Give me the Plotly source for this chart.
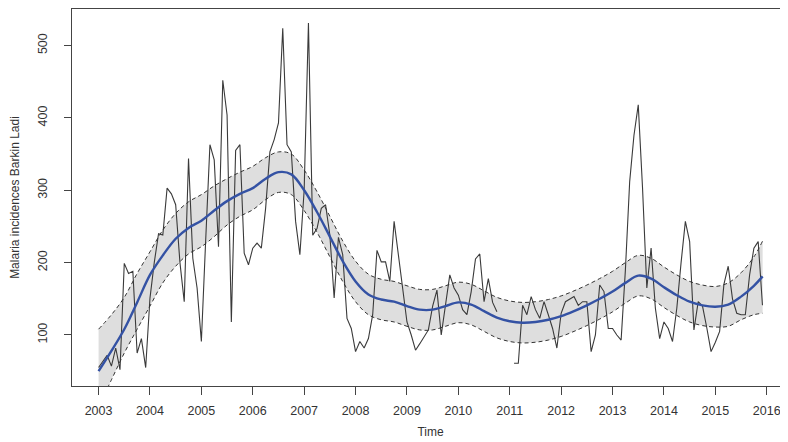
import plotly.graph_objects as go

# Monthly malaria incidences, Jan 2003 - Dec 2015 (None = missing)
start_year = 2003
incidences = [
    55, 63, 72, 57, 82, 52, 199, 185, 188, 75, 95, 55,            # 2003
    151, 200, 240, 238, 303, 295, 280, 200, 146, 344, 206, 165,   # 2004
    91, 230, 363, 342, 222, 452, 404, 118, 355, 363, 213, 197,    # 2005
    220, 227, 220, 275, 353, 370, 393, 524, 363, 353, 257, 211,   # 2006
    300, 531, 238, 247, 275, 280, 238, 151, 235, 211, 123, 109,   # 2007
    77, 91, 82, 95, 128, 217, 201, 201, 174, 257, 211, 169,       # 2008
    118, 100, 79, 88, 98, 107, 140, 162, 100, 140, 183, 165,      # 2009
    155, 135, 128, 160, 205, 212, 146, 178, 145, 132, None, None, # 2010
    None, 61, 61, 141, 128, 153, 135, 123, 146, 128, 109, 82,     # 2011
    130, 146, 150, 153, 141, 146, 146, 77, 100, 169, 160, 109,    # 2012
    109, 100, 93, 190, 312, 376, 418, 303, 165, 220, 137, 95,     # 2013
    118, 109, 91, 137, 200, 257, 229, 107, 146, 140, 110, 77,     # 2014
    90, 105, 170, 195, 150, 130, 128, 128, 183, 220, 229, 141,    # 2015
]
months = [start_year + i / 12 for i in range(len(incidences))]

# Smoothed trend with confidence band (read at quarter-year knots)
smooth_time = [2003.00, 2003.25, 2003.50, 2003.75, 2004.00, 2004.25, 2004.50, 2004.75,
               2005.00, 2005.25, 2005.50, 2005.75, 2006.00, 2006.25, 2006.50, 2006.75,
               2007.00, 2007.25, 2007.50, 2007.75, 2008.00, 2008.25, 2008.50, 2008.75,
               2009.00, 2009.25, 2009.50, 2009.75, 2010.00, 2010.25, 2010.50, 2010.75,
               2011.00, 2011.25, 2011.50, 2011.75, 2012.00, 2012.25, 2012.50, 2012.75,
               2013.00, 2013.25, 2013.50, 2013.75, 2014.00, 2014.25, 2014.50, 2014.75,
               2015.00, 2015.25, 2015.50, 2015.75, 2015.92]
smooth_fit = [50, 78, 108, 145, 183, 210, 233, 248,
              258, 272, 285, 295, 303, 316, 325, 322,
              300, 270, 236, 202, 174, 156, 149, 146,
              140, 135, 135, 140, 145, 142, 133, 124,
              119, 117, 118, 121, 126, 133, 141, 150,
              160, 172, 182, 178, 166, 155, 146, 141,
              139, 142, 153, 168, 181]
smooth_lower = [0, 38, 75, 108, 140, 172, 195, 212,
                222, 236, 252, 264, 273, 287, 297, 294,
                272, 242, 208, 174, 146, 128, 121, 118,
                112, 107, 107, 112, 117, 114, 105, 96,
                91, 89, 90, 93, 98, 105, 113, 122,
                132, 144, 154, 150, 138, 127, 118, 113,
                111, 112, 121, 128, 130]
smooth_upper = [108, 128, 152, 185, 215, 245, 268, 284,
                294, 306, 316, 325, 333, 345, 353, 350,
                328, 298, 264, 230, 202, 184, 177, 174,
                168, 163, 163, 168, 173, 170, 161, 152,
                147, 145, 146, 149, 154, 161, 169, 178,
                188, 200, 210, 206, 194, 183, 174, 169,
                167, 172, 186, 208, 230]

x_ticks = list(range(2003, 2017))
y_ticks = [100, 200, 300, 400, 500]

font = "Liberation Sans, Arial, sans-serif"
fig = go.Figure()

# confidence band
fig.add_trace(go.Scatter(x=smooth_time, y=smooth_upper, mode="lines",
                         line=dict(color="rgba(0,0,0,0)", width=0, shape="spline"),
                         showlegend=False, hoverinfo="skip"))
fig.add_trace(go.Scatter(x=smooth_time, y=smooth_lower, mode="lines", fill="tonexty",
                         fillcolor="#dedede",
                         line=dict(color="rgba(0,0,0,0)", width=0, shape="spline"),
                         showlegend=False, hoverinfo="skip"))

# observed series
fig.add_trace(go.Scatter(x=months, y=incidences, mode="lines",
                         line=dict(color="#3a3a3a", width=1.1),
                         connectgaps=False, showlegend=False))

# dashed band borders
for yy in (smooth_upper, smooth_lower):
    fig.add_trace(go.Scatter(x=smooth_time, y=yy, mode="lines",
                             line=dict(color="#333333", width=1, dash="4px,3px", shape="spline"),
                             showlegend=False))

# fitted trend
fig.add_trace(go.Scatter(x=smooth_time, y=smooth_fit, mode="lines",
                         line=dict(color="#3452a4", width=2.4, shape="spline"),
                         showlegend=False))

fig.update_layout(
    width=788, height=442,
    margin=dict(l=64, r=7, t=1, b=64),
    paper_bgcolor="white", plot_bgcolor="white",
    font=dict(family=font, size=12, color="#333333"),
)
fig.update_xaxes(
    range=[2002.483, 2016.433], tickvals=x_ticks, ticktext=[str(t) for t in x_ticks],
    showgrid=False, zeroline=False, showline=True, mirror=True,
    linecolor="#444444", linewidth=1.2,
    ticks="outside", ticklen=8, tickcolor="#444444", tickwidth=1,
    ticklabelstandoff=5, tickfont=dict(size=12.5, color="#333333"),
    title=dict(text="Time", standoff=10, font=dict(size=12, color="#333333")),
)
fig.update_yaxes(
    range=[29.5, 550.5], tickvals=y_ticks, ticktext=[str(t) for t in y_ticks],
    showgrid=False, zeroline=False, showline=True, mirror=True,
    linecolor="#444444", linewidth=1.2,
    ticks="outside", ticklen=7, tickcolor="#444444", tickwidth=1,
    tickangle=-90, ticklabelstandoff=12, tickfont=dict(size=12.5, color="#333333"),
    title=dict(text="Malaria incidences Barkin Ladi", standoff=16,
               font=dict(size=12, color="#333333")),
)

fig.write_html("out.html")
